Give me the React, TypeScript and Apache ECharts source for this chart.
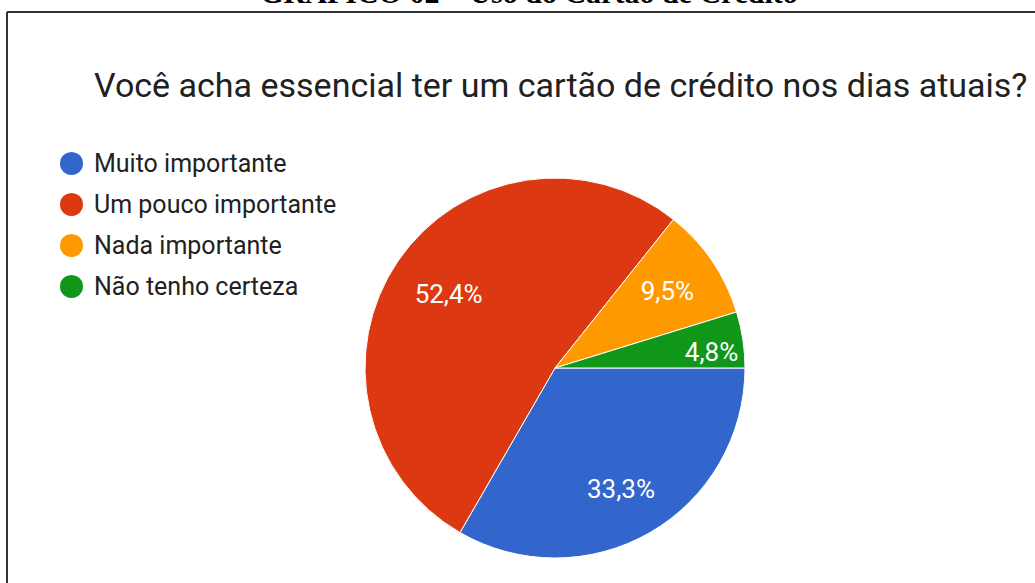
import React, { useEffect, useRef } from "react";
import * as echarts from "echarts";

const headerText = "GRÁFICO 02 – Uso do Cartão de Crédito";
const titleText = "Você acha essencial ter um cartão de crédito nos dias atuais?";
const categories = ["Muito importante", "Um pouco importante", "Nada importante", "Não tenho certeza"];
const responses = [7, 11, 2, 1];
const colors = ["#3366cc", "#dc3912", "#ff9900", "#109618"];

export default function App() {
  const ref = useRef<HTMLDivElement>(null);
  useEffect(() => {
    if (!ref.current) return;
    const chart = echarts.init(ref.current, undefined, { renderer: "svg" });
    const total = responses.reduce((a, b) => a + b, 0);
    const data = categories.map((name, i) => ({
      name,
      value: responses[i],
      itemStyle: { color: colors[i] },
    }));
    const fmt = (p: any) => ((p.value / total) * 100).toFixed(1).replace(".", ",") + "%";
    chart.setOption({
      animation: false,
      color: colors,
      title: {
        text: titleText,
        left: 94,
        top: 68,
        padding: 0,
        textStyle: { fontFamily: "Roboto", fontSize: 34, fontWeight: "normal", color: "#212121" },
      },
      legend: {
        orient: "vertical",
        left: 58,
        top: 150,
        padding: 0,
        icon: "circle",
        itemWidth: 25,
        itemHeight: 25,
        itemGap: 14,
        data: categories,
        textStyle: { fontFamily: "Roboto", fontSize: 25, lineHeight: 25, color: "#212121", padding: [0, 0, 0, 5] },
      },
      graphic: [
        {
          type: "text",
          x: 529,
          y: 7,
          style: {
            text: headerText,
            font: "bold 30px 'Liberation Serif', 'Times New Roman', serif",
            fill: "#000",
            textAlign: "center",
            textVerticalAlign: "bottom",
          },
        },
        { type: "line", shape: { x1: 7, y1: 12, x2: 1035, y2: 12 }, style: { stroke: "#333", lineWidth: 2 } },
        { type: "line", shape: { x1: 7, y1: 12, x2: 7, y2: 583 }, style: { stroke: "#333", lineWidth: 2 } },
      ],
      series: [
        {
          type: "pie",
          center: [555, 368],
          radius: 190,
          startAngle: 0,
          clockwise: true,
          silent: true,
          label: { show: false },
          labelLine: { show: false },
          itemStyle: { borderColor: "#fff", borderWidth: 1 },
          data,
        },
        {
          type: "pie",
          center: [555, 368],
          radius: [76, 190],
          startAngle: 0,
          clockwise: true,
          silent: true,
          itemStyle: { color: "transparent", borderWidth: 0 },
          label: {
            show: true,
            position: "inside",
            formatter: fmt,
            fontFamily: "Roboto",
            fontSize: 26,
            color: "#fff",
          },
          labelLine: { show: false },
          labelLayout: (p: any) =>
            p.dataIndex === 3 ? { dx: 22, dy: 4 } : p.dataIndex === 1 ? { dx: 6, dy: 3 } : p.dataIndex === 0 ? { dx: -2, dy: 3 } : {},
          data: categories.map((name, i) => ({ name, value: responses[i], itemStyle: { color: "transparent" } })),
        },
      ],
    });
    return () => chart.dispose();
  }, []);
  return <div ref={ref} style={{ position: "absolute", left: 0, top: 0, width: 1035, height: 583 }} />;
}
